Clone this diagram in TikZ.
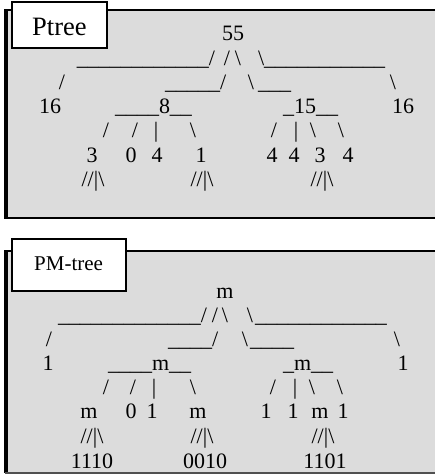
\documentclass[tikz,border=0pt]{standalone}
\usepackage{fontspec}
\setmainfont{Liberation Serif}
\definecolor{boxgray}{RGB}{220,220,220}
\definecolor{edgegray}{RGB}{80,80,80}
\newcommand{\treefont}{\fontsize{22}{26}\selectfont}
\newcommand{\bs}{\textbackslash}
\newcommand{\vb}{\textbar}
\newcommand{\us}{\_}
\tikzset{
  tk/.style={inner sep=0pt, outer sep=0pt, anchor=base, font=\treefont},
  tkw/.style={tk, anchor=base west},
  panel/.style={fill=boxgray},
  labelbox/.style={draw=black, line width=1.8pt, fill=white},
  labeltext/.style={inner sep=0pt, anchor=base west}
}
\begin{document}
\begin{tikzpicture}[x=1pt, y=-1pt]
\useasboundingbox (0,0) rectangle (435,475);
\clip (0,0) rectangle (435,475);
% ---------- top panel ----------
\fill[panel] (5,10) rectangle (445,218);
\draw[line width=2pt] (445,10) -- (5,10) -- (5,218) -- (445,218);
\draw[line width=3pt] (6,10) -- (6,218);
\draw[labelbox] (12,2) rectangle (107,48);
\node[labeltext, font=\fontsize{26.5}{30}\selectfont] (lab1) at (32,35) {Ptree};
% row 1
\node[tk] (a1) at (233,40) {55};
% row 2
\node[tkw] (a2) at (77,65) {\us\us\us\us\us\us\us\us\us\us\us\us/};
\node[tk] (a3) at (227,65) {/};
\node[tk] (a4) at (238,65) {\bs};
\node[tkw] (a5) at (258,65) {\bs\us\us\us\us\us\us\us\us\us\us\us};
% row 3
\node[tk] (b1) at (62,89) {/};
\node[tkw] (b2) at (165,89) {\us\us\us\us\us/};
\node[tk] (b3) at (251,89) {\bs};
\node[tkw] (b4) at (258,89) {\us\us\us};
\node[tk] (b5) at (393,89) {\bs};
% row 4
\node[tk] (c1) at (50,113) {16};
\node[tkw] (c2) at (115,113) {\us\us\us\us8\us\us};
\node[tkw] (c3) at (283,113) {\us15\us\us};
\node[tk] (c4) at (403,113) {16};
% row 5
\node[tk] (d1) at (106,137) {/};
\node[tk] (d2) at (135,137) {/};
\node[tk] (d3) at (156,137) {\vb};
\node[tk] (d4) at (193,137) {\bs};
\node[tk] (d5) at (274,137) {/};
\node[tk] (d6) at (296,137) {\vb};
\node[tk] (d7) at (313,137) {\bs};
\node[tk] (d8) at (341,137) {\bs};
% row 6
\node[tk] (e1) at (92,162) {3};
\node[tk] (e2) at (131,162) {0};
\node[tk] (e3) at (157,162) {4};
\node[tk] (e4) at (201,162) {1};
\node[tk] (e5) at (272,162) {4};
\node[tk] (e6) at (294,162) {4};
\node[tk] (e7) at (320,162) {3};
\node[tk] (e8) at (348,162) {4};
% row 7
\node[tk] (f1) at (93,186) {//\vb\bs};
\node[tk] (f2) at (202,186) {//\vb\bs};
\node[tk] (f3) at (322,186) {//\vb\bs};
% ---------- bottom panel ----------
\fill[panel] (5,251) rectangle (445,473);
\draw[line width=2pt] (445,251) -- (5,251) -- (5,473);
\draw[line width=3pt] (6,251) -- (6,473);
\draw[line width=1.6pt, edgegray] (5,473) -- (445,473);
\draw[labelbox] (12,239) rectangle (126,291);
\node[labeltext, font=\fontsize{21}{25}\selectfont] (lab2) at (34,270) {PM-tree};
% row 1
\node[tk] (g1) at (225,298) {m};
% row 2
\node[tkw] (g2) at (58,322) {\us\us\us\us\us\us\us\us\us\us\us\us\us/};
\node[tk] (g3) at (215,322) {/};
\node[tk] (g4) at (225,322) {\bs};
\node[tk] (g5) at (250,322) {\bs};
\node[tkw] (g6) at (255,322) {\us\us\us\us\us\us\us\us\us\us\us\us};
% row 3
\node[tk] (h1) at (49,346) {/};
\node[tkw] (h2) at (168,346) {\us\us\us\us/};
\node[tk] (h3) at (245,346) {\bs};
\node[tkw] (h4) at (250,346) {\us\us\us\us};
\node[tk] (h5) at (397,346) {\bs};
% row 4
\node[tk] (i1) at (48,370) {1};
\node[tkw] (i2) at (108,370) {\us\us\us\us m\us\us};
\node[tkw] (i3) at (283,370) {\us m\us\us};
\node[tk] (i4) at (403,370) {1};
% row 5
\node[tk] (j1) at (106,394) {/};
\node[tk] (j2) at (133,394) {/};
\node[tk] (j3) at (154,394) {\vb};
\node[tk] (j4) at (193,394) {\bs};
\node[tk] (j5) at (273,394) {/};
\node[tk] (j6) at (295,394) {\vb};
\node[tk] (j7) at (312,394) {\bs};
\node[tk] (j8) at (340,394) {\bs};
% row 6
\node[tk] (k1) at (89,418) {m};
\node[tk] (k2) at (131,418) {0};
\node[tk] (k3) at (152,418) {1};
\node[tk] (k4) at (198,418) {m};
\node[tk] (k5) at (266,418) {1};
\node[tk] (k6) at (293,418) {1};
\node[tk] (k7) at (320,418) {m};
\node[tk] (k8) at (343,418) {1};
% row 7
\node[tk] (l1) at (92,443) {//\vb\bs};
\node[tk] (l2) at (202,443) {//\vb\bs};
\node[tk] (l3) at (323,443) {//\vb\bs};
% row 8
\node[tk] (m1) at (92,468) {1110};
\node[tk] (m2) at (205,468) {0010};
\node[tk] (m3) at (325,468) {1101};
\end{tikzpicture}
\end{document}
